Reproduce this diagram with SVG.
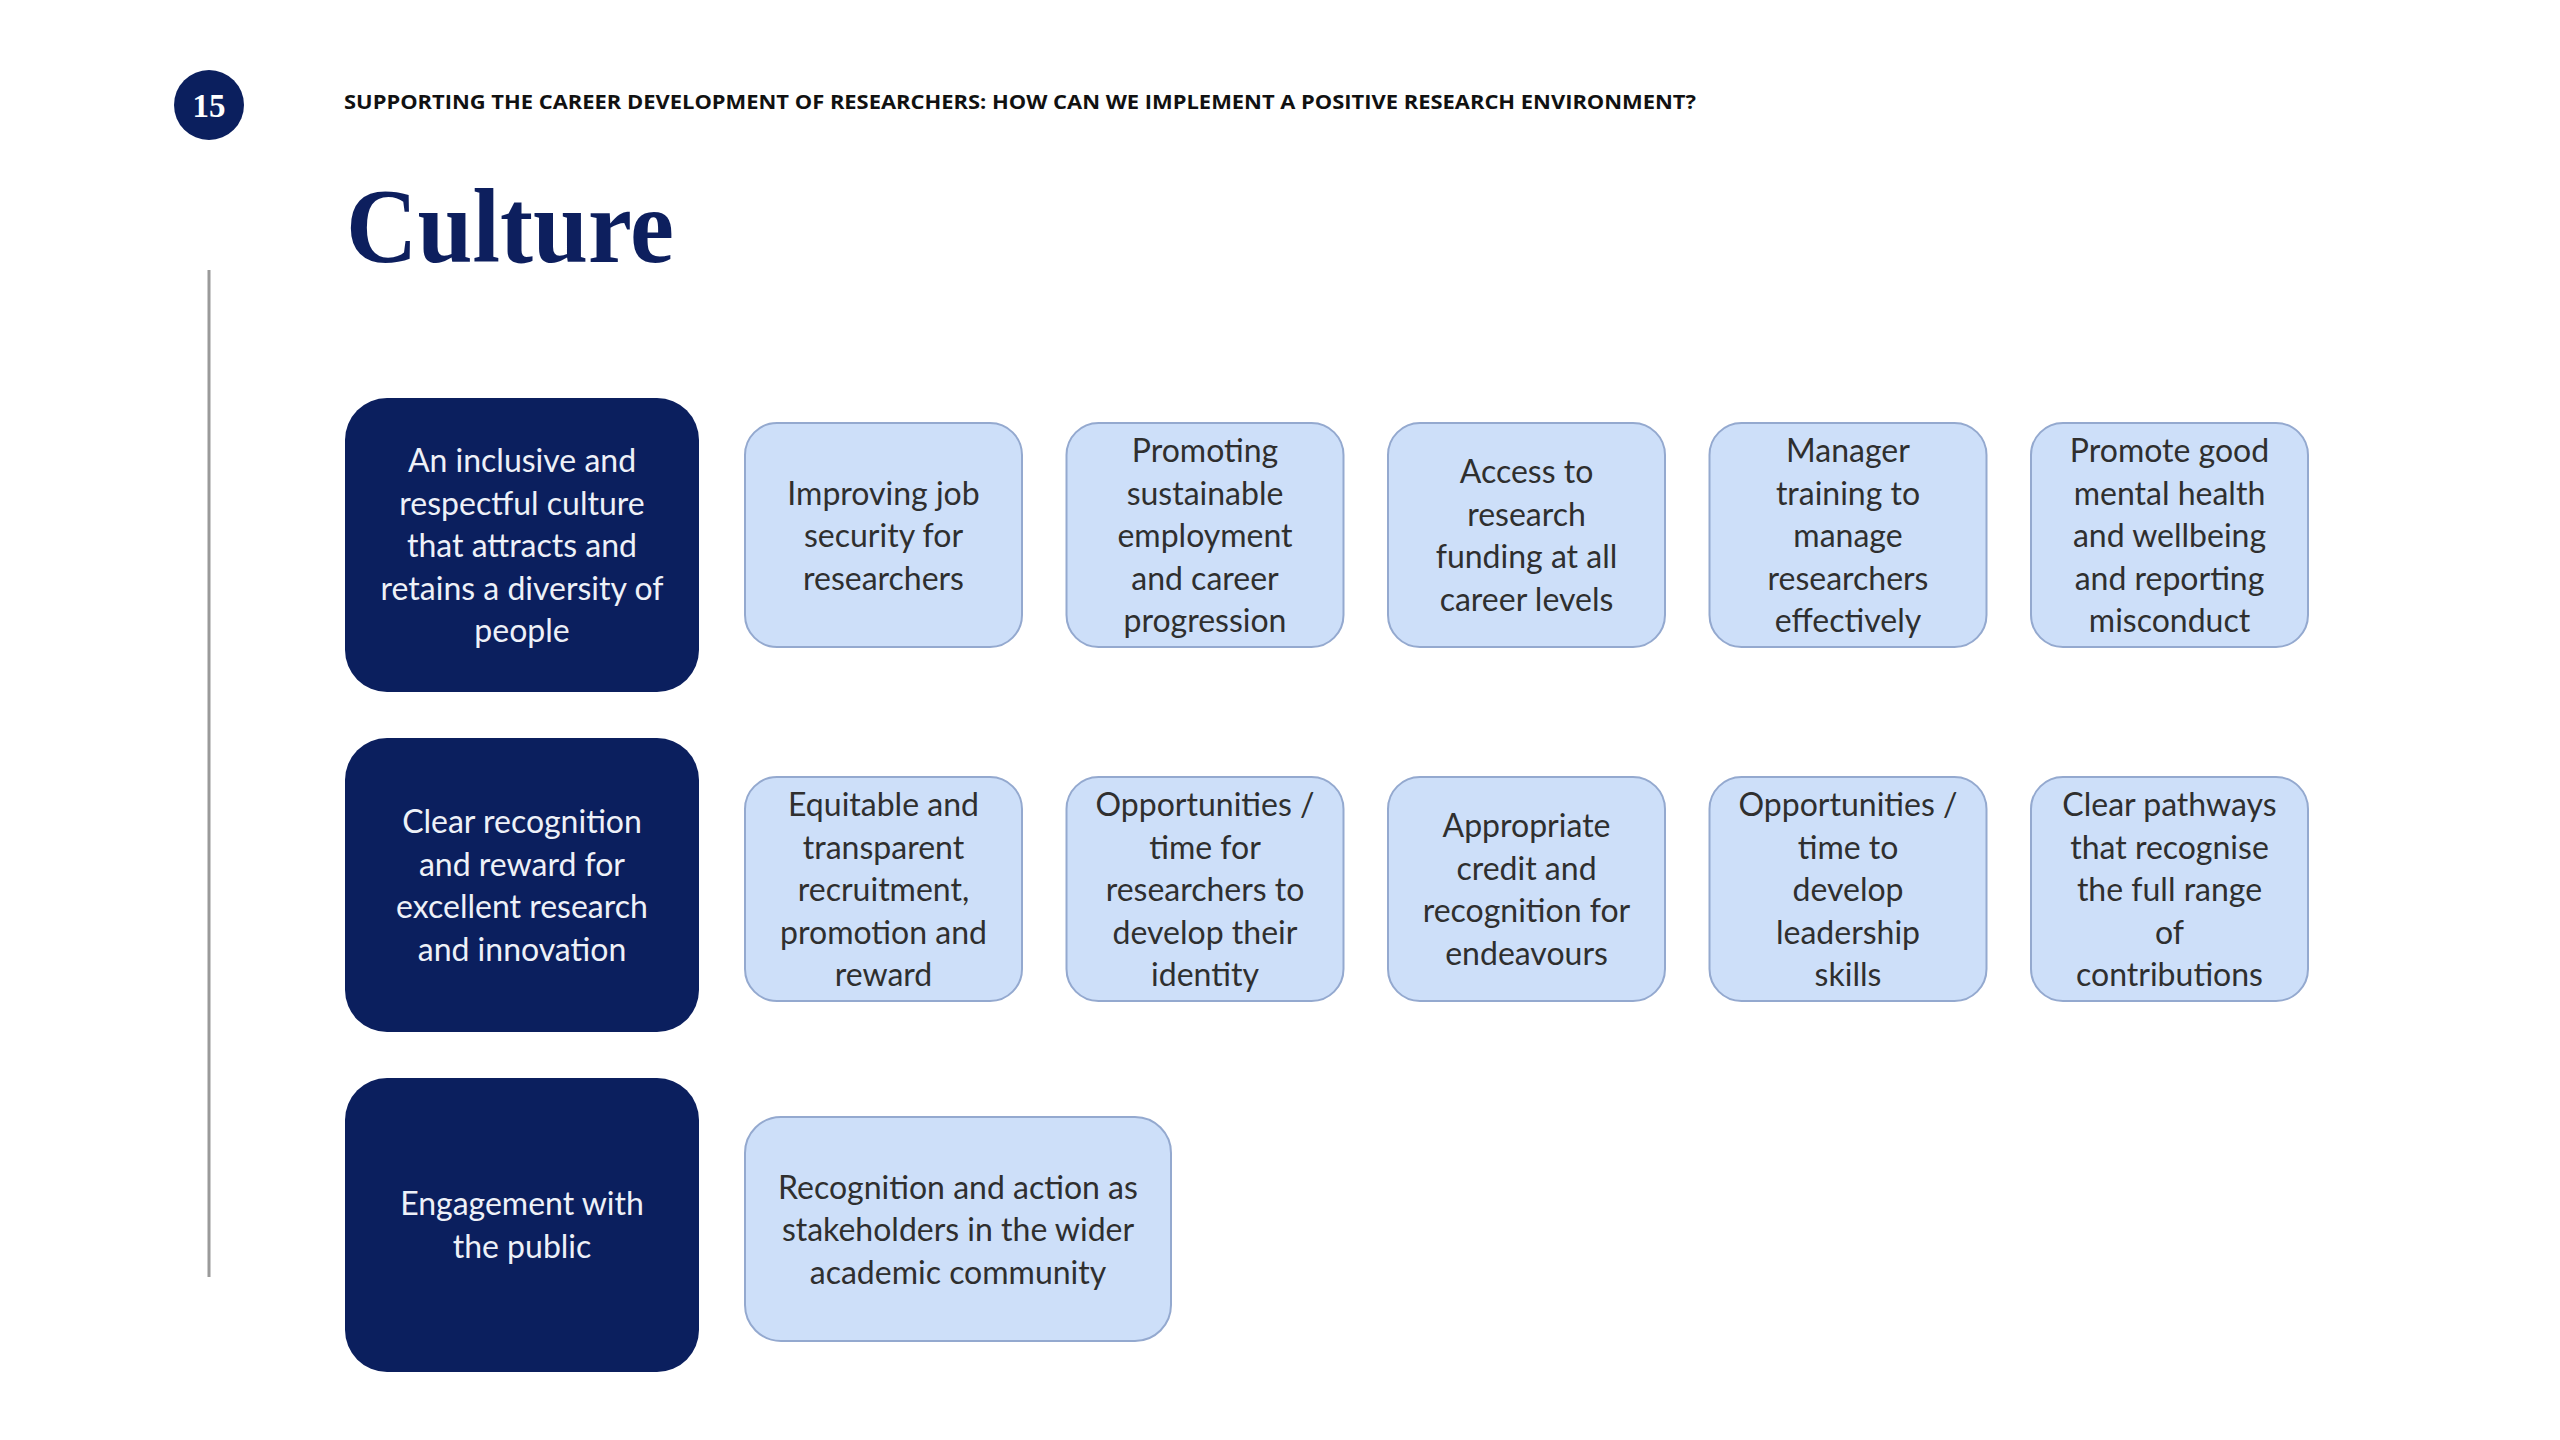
<svg xmlns="http://www.w3.org/2000/svg" width="2560" height="1440" viewBox="0 0 2560 1440">
<style>
.dark{fill:#0b1f5e;}
.light{fill:#cddff9;stroke:#94a9cf;stroke-width:2;}
.dt{font-family:Lato,"Open Sans",sans-serif;font-size:32px;fill:#eef1f8;text-anchor:middle;}
.lt{font-family:Lato,"Open Sans",sans-serif;font-size:32px;fill:#2f2f2f;text-anchor:middle;}
</style>
<rect width="2560" height="1440" fill="#ffffff"/>
<g id="page-number">
<circle cx="209" cy="105" r="35" fill="#0b1f5e"/>
<text x="209" y="117" font-family="'Liberation Serif',serif" font-weight="bold" font-size="33" fill="#ffffff" text-anchor="middle">15</text>
</g>
<text id="header" x="344" y="109" font-family="'Open Sans',sans-serif" font-weight="bold" font-size="20" fill="#111111" textLength="1352" lengthAdjust="spacingAndGlyphs">SUPPORTING THE CAREER DEVELOPMENT OF RESEARCHERS: HOW CAN WE IMPLEMENT A POSITIVE RESEARCH ENVIRONMENT?</text>
<text id="title" x="346" y="262" font-family="'Liberation Serif',serif" font-weight="bold" font-size="106" fill="#0d1f5e" textLength="328" lengthAdjust="spacingAndGlyphs">Culture</text>
<line x1="209" y1="270" x2="209" y2="1277" stroke="#9a9a9a" stroke-width="3"/>
<g id="connectors"></g>

<g id="d1"><rect class="dark" x="345" y="398" width="354" height="294" rx="42"/>
<text class="dt"><tspan x="522" y="472">An inclusive and</tspan><tspan x="522" y="514.5">respectful culture</tspan><tspan x="522" y="557">that attracts and</tspan><tspan x="522" y="599.5">retains a diversity of</tspan><tspan x="522" y="642">people</tspan></text></g>
<g id="d2"><rect class="dark" x="345" y="738" width="354" height="294" rx="42"/>
<text class="dt"><tspan x="522" y="833">Clear recognition</tspan><tspan x="522" y="875.5">and reward for</tspan><tspan x="522" y="918">excellent research</tspan><tspan x="522" y="960.5">and innovation</tspan></text></g>
<g id="d3"><rect class="dark" x="345" y="1078" width="354" height="294" rx="42"/>
<text class="dt"><tspan x="522" y="1215">Engagement with</tspan><tspan x="522" y="1257.5">the public</tspan></text></g>

<g id="l11"><rect class="light" x="745" y="423" width="277" height="224" rx="32"/>
<text class="lt"><tspan x="883.5" y="504.5">Improving job</tspan><tspan x="883.5" y="547">security for</tspan><tspan x="883.5" y="589.5">researchers</tspan></text></g>
<g id="l12"><rect class="light" x="1066.5" y="423" width="277" height="224" rx="32"/>
<text class="lt"><tspan x="1205" y="462">Promoting</tspan><tspan x="1205" y="504.5">sustainable</tspan><tspan x="1205" y="547">employment</tspan><tspan x="1205" y="589.5">and career</tspan><tspan x="1205" y="632">progression</tspan></text></g>
<g id="l13"><rect class="light" x="1388" y="423" width="277" height="224" rx="32"/>
<text class="lt"><tspan x="1526.5" y="483">Access to</tspan><tspan x="1526.5" y="525.5">research</tspan><tspan x="1526.5" y="568">funding at all</tspan><tspan x="1526.5" y="610.5">career levels</tspan></text></g>
<g id="l14"><rect class="light" x="1709.5" y="423" width="277" height="224" rx="32"/>
<text class="lt"><tspan x="1848" y="462">Manager</tspan><tspan x="1848" y="504.5">training to</tspan><tspan x="1848" y="547">manage</tspan><tspan x="1848" y="589.5">researchers</tspan><tspan x="1848" y="632">effectively</tspan></text></g>
<g id="l15"><rect class="light" x="2031" y="423" width="277" height="224" rx="32"/>
<text class="lt"><tspan x="2169.5" y="462">Promote good</tspan><tspan x="2169.5" y="504.5">mental health</tspan><tspan x="2169.5" y="547">and wellbeing</tspan><tspan x="2169.5" y="589.5">and reporting</tspan><tspan x="2169.5" y="632">misconduct</tspan></text></g>

<g id="l21"><rect class="light" x="745" y="777" width="277" height="224" rx="32"/>
<text class="lt"><tspan x="883.5" y="816">Equitable and</tspan><tspan x="883.5" y="858.5">transparent</tspan><tspan x="883.5" y="901">recruitment,</tspan><tspan x="883.5" y="943.5">promotion and</tspan><tspan x="883.5" y="986">reward</tspan></text></g>
<g id="l22"><rect class="light" x="1066.5" y="777" width="277" height="224" rx="32"/>
<text class="lt"><tspan x="1205" y="816">Opportunities /</tspan><tspan x="1205" y="858.5">time for</tspan><tspan x="1205" y="901">researchers to</tspan><tspan x="1205" y="943.5">develop their</tspan><tspan x="1205" y="986">identity</tspan></text></g>
<g id="l23"><rect class="light" x="1388" y="777" width="277" height="224" rx="32"/>
<text class="lt"><tspan x="1526.5" y="837">Appropriate</tspan><tspan x="1526.5" y="879.5">credit and</tspan><tspan x="1526.5" y="922">recognition for</tspan><tspan x="1526.5" y="964.5">endeavours</tspan></text></g>
<g id="l24"><rect class="light" x="1709.5" y="777" width="277" height="224" rx="32"/>
<text class="lt"><tspan x="1848" y="816">Opportunities /</tspan><tspan x="1848" y="858.5">time to</tspan><tspan x="1848" y="901">develop</tspan><tspan x="1848" y="943.5">leadership</tspan><tspan x="1848" y="986">skills</tspan></text></g>
<g id="l25"><rect class="light" x="2031" y="777" width="277" height="224" rx="32"/>
<text class="lt"><tspan x="2169.5" y="816">Clear pathways</tspan><tspan x="2169.5" y="858.5">that recognise</tspan><tspan x="2169.5" y="901">the full range</tspan><tspan x="2169.5" y="943.5">of</tspan><tspan x="2169.5" y="986">contributions</tspan></text></g>

<g id="l31"><rect class="light" x="745" y="1117" width="426" height="224" rx="36"/>
<text class="lt"><tspan x="958" y="1198.5">Recognition and action as</tspan><tspan x="958" y="1241">stakeholders in the wider</tspan><tspan x="958" y="1283.5">academic community</tspan></text></g>
</svg>
